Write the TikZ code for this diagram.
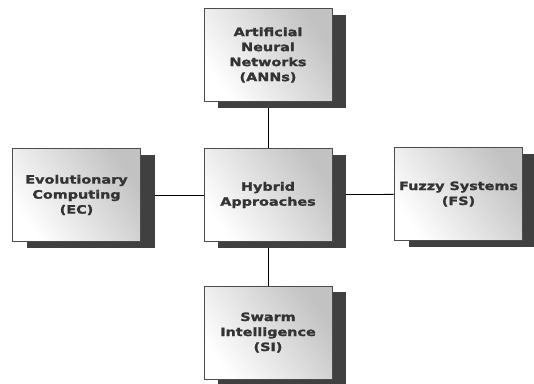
\documentclass[tikz,border=0pt]{standalone}
\usepackage{fontspec}
\newfontfamily\boxfont{DejaVu Sans}[FakeStretch=1.25, BoldFeatures={FakeBold=1.6}]
\usetikzlibrary{shadows,backgrounds}
\tikzset{
  boxnode/.style={draw=black!70, line width=0.8pt,
    top color=black!24, middle color=black!4, bottom color=white, shading angle=-55,
    minimum width=128pt, minimum height=93pt, inner sep=2pt,
    align=center, text=black!80,
    font=\boxfont\bfseries\fontsize{11.5}{15}\selectfont,
    drop shadow={shadow xshift=14pt, shadow yshift=-6pt, fill=black!75, opacity=1}},
  link/.style={draw=black, line width=0.8pt}
}
\begin{document}
\begin{tikzpicture}[x=1pt,y=-1pt]
\useasboundingbox (0,0) rectangle (534,383);
\node[boxnode] (ann) at (268,55) {Artificial\\Neural\\Networks\\(ANNs)};
\node[boxnode] (hyb) at (268,195) {Hybrid\\Approaches};
\node[boxnode] (ec) at (76.5,195) {Evolutionary\\Computing\\(EC)};
\node[boxnode] (fs) at (458.5,194) {Fuzzy Systems\\(FS)};
\node[boxnode] (si) at (268,332.5) {Swarm\\Intelligence\\(SI)};
\begin{pgfonlayer}{background}
\draw[link] (ann) -- (hyb);
\draw[link] (hyb) -- (si);
\draw[link] (ec) -- (hyb);
\draw[link] (hyb) -- (fs);
\end{pgfonlayer}
\end{tikzpicture}
\end{document}
